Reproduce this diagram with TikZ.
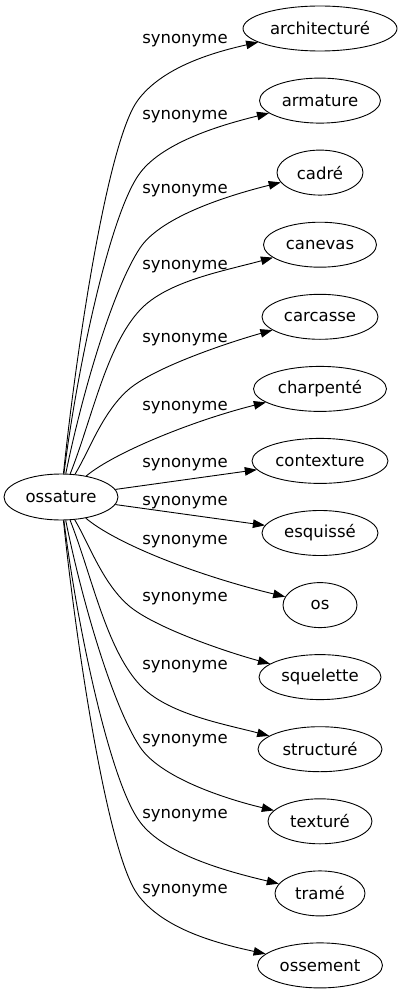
\documentclass[tikz,border=0pt]{standalone}
\usepackage{fontspec}
\setmainfont{DejaVu Sans}
\usetikzlibrary{shapes.geometric,arrows.meta}
\begin{document}
\begin{tikzpicture}[x=1pt,y=-1pt,
  every node/.style={font=\fontsize{16.5}{19}\selectfont},
  term/.style={ellipse,draw,line width=0.9pt,inner sep=0pt,minimum height=45pt},
  lbl/.style={inner sep=0pt},
  syn/.style={draw,line width=0.9pt,-{Triangle[length=12pt,width=8.5pt]}}]
\useasboundingbox (0,0) rectangle (402,995);
\node[term,minimum width=114pt,minimum height=46pt] (oss) at (61,497) {ossature};
\node[term,minimum width=154pt] (t1) at (320,28.5) {architecturé};
\node[term,minimum width=121pt] (t2) at (320,100.6) {armature};
\node[term,minimum width=86pt] (t3) at (320,172.6) {cadré};
\node[term,minimum width=113pt] (t4) at (320,244.7) {canevas};
\node[term,minimum width=116pt] (t5) at (320,316.8) {carcasse};
\node[term,minimum width=133pt] (t6) at (320,388.9) {charpenté};
\node[term,minimum width=136pt] (t7) at (320,460.9) {contexture};
\node[term,minimum width=116pt] (t8) at (320,533) {esquissé};
\node[term,minimum width=74pt] (t9) at (320,605.1) {os};
\node[term,minimum width=122pt] (t10) at (320,677.1) {squelette};
\node[term,minimum width=124pt] (t11) at (320,749.2) {structuré};
\node[term,minimum width=104pt] (t12) at (320,821.3) {texturé};
\node[term,minimum width=90pt] (t13) at (320,893.4) {tramé};
\node[term,minimum width=125pt] (t14) at (320,965.4) {ossement};
\node[lbl] (l1) at (185,41) {synonyme};
\node[lbl] (l2) at (185,117) {synonyme};
\node[lbl] (l3) at (185,191) {synonyme};
\node[lbl] (l4) at (185,267) {synonyme};
\node[lbl] (l5) at (185,340) {synonyme};
\node[lbl] (l6) at (185,408) {synonyme};
\node[lbl] (l7) at (185,465) {synonyme};
\node[lbl] (l8) at (185,503) {synonyme};
\node[lbl] (l9) at (185,541.5) {synonyme};
\node[lbl] (l10) at (185,598.5) {synonyme};
\node[lbl] (l11) at (185,666.5) {synonyme};
\node[lbl] (l12) at (185,741) {synonyme};
\node[lbl] (l13) at (185,816) {synonyme};
\node[lbl] (l14) at (185,891) {synonyme};
\draw[syn] (oss) .. controls (77,344) and (108,140) .. (138,100) .. controls (162,68) and (210,53) .. (t1);
\draw[syn] (oss) .. controls (77,369) and (110,213) .. (140,173) .. controls (164,141) and (225,124) .. (t2);
\draw[syn] (oss) .. controls (82,394) and (112.5,289.5) .. (140,248) .. controls (162,215) and (234,194) .. (t3);
\draw[syn] (oss) .. controls (92,419) and (106,346.5) .. (140,310) .. controls (167,281) and (224,271) .. (t4);
\draw[syn] (oss) .. controls (89,451.5) and (102,413) .. (128,390) .. controls (154,367) and (231,341.7) .. (t5);
\draw[syn] (oss) .. controls (115,452) and (195,420) .. (t6);
\draw[syn] (oss) -- (t7);
\draw[syn] (oss) -- (t8);
\draw[syn] (oss) .. controls (115,543) and (195,575) .. (t9);
\draw[syn] (oss) .. controls (89,543.5) and (102,582) .. (128,605) .. controls (154,628) and (231,653.3) .. (t10);
\draw[syn] (oss) .. controls (92,576) and (106,648.5) .. (140,685) .. controls (167,714) and (224,724) .. (t11);
\draw[syn] (oss) .. controls (82,601) and (112.5,705.5) .. (140,747) .. controls (162,780) and (234,801) .. (t12);
\draw[syn] (oss) .. controls (77,626) and (110,782) .. (140,822) .. controls (164,854) and (225,871) .. (t13);
\draw[syn] (oss) .. controls (77,651) and (108,855) .. (138,895) .. controls (162,927) and (210,942) .. (t14);
\end{tikzpicture}
\end{document}
